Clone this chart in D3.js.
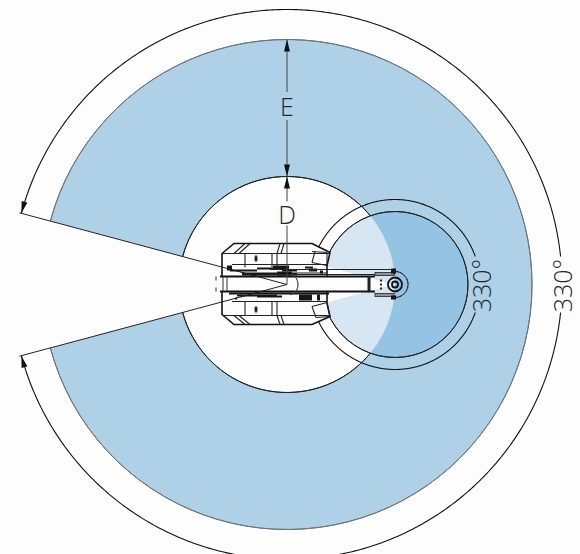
<!DOCTYPE html>
<html>
<head>
<meta charset="utf-8">
<script src="https://cdn.jsdelivr.net/npm/d3@7"></script>
<style>
html, body { margin: 0; padding: 0; background: #fdfdfd; }
svg { display: block; }
text { font-family: "Open Sans", sans-serif; font-weight: 300; fill: #23292d; }
</style>
</head>
<body>
<div id="chart"></div>
<script>
// 数据：工作范围
const zoneLabels = ['D', 'E'];
const zoneReach = [108, 245];      // J1 内径 / 外径
const dimReach = 275;              // 外侧尺寸弧
const j1Sweep = 330;
const j2Sweep = 330;
const j2Offset = 108;              // J2 轴到 J1 轴的距离
const j2Reach = 73;
const j2DimReach = 85;
const sweepLabels = ['330°', '330°'];

// 机身轮廓（相对 J1 轴，上下对称）
const bodyOutline = [[-65, -22], [-65, -31], [-53, -41], [25, -41], [43, -32], [40, -19], [40, 19], [43, 32], [25, 40], [-53, 40], [-65, 30], [-65, -22]];
const bodyLines = [
  [[-65, -31], [43, -31]], [[-55, -20], [40, -20]], [[-53, -31], [-42, -41]], [[-48, -31], [-37, -41]],
  [[-42, -31], [-42, -17]], [[-10, -31], [-10, -17]], [[-6, -31], [-3, -41]], [[-10, -31], [-7, -41]],
  [[-15, -31], [-15, -17]], [[25, -33], [40, -32]], [[25, -22], [28, -33]], [[40, -32], [40, -19]], [[25, -22], [40, -19]]
];
const lowerLines = [
  [[-65, 31], [43, 31]], [[-55, 17], [40, 17]], [[-53, 31], [-42, 40]], [[-48, 31], [-37, 40]],
  [[-42, 31], [-42, 17]], [[-10, 31], [-10, 17]], [[-6, 31], [-3, 40]], [[-10, 31], [-7, 40]],
  [[-15, 31], [-15, 17]], [[25, 22], [40, 18]], [[25, 22], [29, 33]], [[40, 18], [43, 32]], [[29, 33], [43, 32]]
];
// 深色密集线段
const denseBands = [
  [-60, -19, -55, -14], [-57, -15, -30, -13], [-45, -12, 10, -9], [-30, -17, -5, -15], [-5, -15, 10, -13],
  [-14, -19, 2, -15], [-10, -13, 5, -9], [22, -16, 30, -13], [10, -12, 40, -11], [33, -14, 36, -11],
  [-58, 8, 42, 10], [-50, 10, -10, 12], [-30, 11, -5, 13], [12, 10, 25, 16], [30, 10, 33, 16], [-52, 13, -50, 15],
  [18, -18, 26, -16]
];
const boltMarks = [[-31, -26], [-31, 25]];
const armTop = [[-67, -8], [88, -8]];
const armBottom = [[-67, 7], [88, 7]];
const armCap = [[-64, -8], [-64, 7]];
const armCap2 = [[-60, -8], [-60, 7]];
const upperStrip = [[[-17, -15], [108, -15]], [[-17, -10], [88, -10]], [[88, -10], [108, -10]]];
const wristBlocks = [[88, -12, 107, -9], [88, 9, 107, 12]];
const hubRings = [3, 7];

const width = 580, height = 554;
const cx = 287, cy = 284.5;

const xPos = d3.scaleLinear().domain([-cx, width - cx]).range([0, width]);
const yPos = d3.scaleLinear().domain([-cy, height - cy]).range([0, height]);
const rScale = d3.scaleLinear().domain([0, 245]).range([0, 245]);
const rad = d => d * Math.PI / 180;

const svg = d3.select('#chart').append('svg').attr('width', width).attr('height', height);
const defs = svg.append('defs');

function arrow(id, color) {
  defs.append('marker').attr('id', id).attr('viewBox', '0 0 12 6').attr('refX', 12).attr('refY', 3)
    .attr('markerUnits', 'userSpaceOnUse').attr('markerWidth', 14).attr('markerHeight', 6).attr('orient', 'auto-start-reverse')
    .append('path').attr('d', 'M0,0L12,3L0,6Z').attr('fill', color);
}
arrow('tip', '#111');

const arcGen = d3.arc();
const line = d3.line().x(d => xPos(d[0])).y(d => yPos(d[1]));

// 缺口朝左，扫掠角度由 sweep 得出
const sectorStart = sweep => rad(-90 + (360 - sweep) / 2);
const sectorEnd = sweep => sectorStart(sweep) + rad(sweep);
const polar = (r, deg) => [r * Math.sin(rad(deg)), -r * Math.cos(rad(deg))];

const main = svg.append('g').attr('transform', `translate(${xPos(0)},${yPos(0)})`);

// J1 蓝色区域
main.append('path')
  .attr('d', arcGen({ innerRadius: rScale(zoneReach[0]), outerRadius: rScale(zoneReach[1]), startAngle: sectorStart(j1Sweep), endAngle: sectorEnd(j1Sweep) }))
  .attr('fill', '#aed1e8');
main.append('path')
  .attr('d', arcGen({ innerRadius: rScale(zoneReach[1]), outerRadius: rScale(zoneReach[1]), startAngle: sectorStart(j1Sweep), endAngle: sectorEnd(j1Sweep) }))
  .attr('fill', 'none').attr('stroke', '#6f7476').attr('stroke-width', 1);

// J2 区域
defs.append('clipPath').attr('id', 'inner-disc').append('circle')
  .attr('cx', xPos(0)).attr('cy', yPos(0)).attr('r', rScale(zoneReach[0]));
const j2 = d => arcGen({ innerRadius: 0, outerRadius: rScale(j2Reach), startAngle: sectorStart(j2Sweep), endAngle: sectorEnd(j2Sweep) });
const j2Center = `translate(${xPos(j2Offset)},${yPos(0)})`;
svg.append('path').attr('transform', j2Center).attr('d', j2()).attr('fill', '#95c3e3');
svg.append('g').attr('clip-path', 'url(#inner-disc)')
  .append('path').attr('transform', j2Center).attr('d', j2()).attr('fill', '#d6e7f3');

// J1 内圆
main.append('path')
  .attr('d', arcGen({ innerRadius: rScale(zoneReach[0]), outerRadius: rScale(zoneReach[0]), startAngle: sectorStart(j1Sweep), endAngle: sectorEnd(j1Sweep) }))
  .attr('fill', 'none').attr('stroke', '#222').attr('stroke-width', 1);

// J2 外缘
svg.append('path').attr('transform', j2Center)
  .attr('d', arcGen({ innerRadius: rScale(j2Reach), outerRadius: rScale(j2Reach), startAngle: sectorStart(j2Sweep), endAngle: sectorEnd(j2Sweep) }))
  .attr('fill', 'none').attr('stroke', '#222').attr('stroke-width', 1);

// 尺寸弧：右侧留出文字空隙
function dimArc(g, r, sweep) {
  const start = -90 + (360 - sweep) / 2;
  const gapHalf = Math.asin(28 / r) * 180 / Math.PI;
  const makePts = (a, b) => d3.range(a, b, 0.5).concat([b]).map(t => polar(r, t));
  const path = d3.line();
  g.append('path').attr('d', path(makePts(start, 90 - gapHalf).reverse()))
    .attr('fill', 'none').attr('stroke', '#111').attr('stroke-width', 1.1).attr('marker-end', 'url(#tip)');
  g.append('path').attr('d', path(makePts(90 + gapHalf, start + sweep)))
    .attr('fill', 'none').attr('stroke', '#111').attr('stroke-width', 1.1).attr('marker-end', 'url(#tip)');
}
dimArc(main, rScale(dimReach), j1Sweep);
dimArc(svg.append('g').attr('transform', j2Center), rScale(j2DimReach), j2Sweep);

// 机身
svg.append('path').attr('d', line(bodyOutline)).attr('fill', '#fdfdfd').attr('stroke', '#111').attr('stroke-width', 1.6);

// 缺口两侧的边界线
[-1, 1].forEach(s => {
  const end = polar(rScale(dimReach) + 2, -90 + s * (360 - j1Sweep) / 2);
  svg.append('path').attr('d', line([end, [0, 0]])).attr('stroke', '#222').attr('stroke-width', 1).attr('fill', 'none');
});

bodyLines.concat(lowerLines).forEach(l => {
  svg.append('path').attr('d', line(l)).attr('fill', 'none').attr('stroke', '#222').attr('stroke-width', 1.1);
});
denseBands.forEach(b => {
  svg.append('rect').attr('x', xPos(b[0])).attr('y', yPos(b[1]))
    .attr('width', xPos(b[2]) - xPos(b[0])).attr('height', Math.max(1, yPos(b[3]) - yPos(b[1])))
    .attr('fill', '#161616');
});
boltMarks.forEach(b => {
  svg.append('ellipse').attr('cx', xPos(b[0])).attr('cy', yPos(b[1])).attr('rx', 1.6).attr('ry', 3.2).attr('fill', '#333');
});

// 手臂
svg.append('rect').attr('x', xPos(armTop[0][0])).attr('y', yPos(armTop[0][1]))
  .attr('width', xPos(armTop[1][0]) - xPos(armTop[0][0])).attr('height', yPos(armBottom[0][1]) - yPos(armTop[0][1]))
  .attr('fill', '#fdfdfd');
[armTop, armBottom].forEach(l => svg.append('path').attr('d', line(l)).attr('stroke', '#111').attr('stroke-width', 1.8));
[armCap, armCap2].forEach(l => svg.append('path').attr('d', line(l)).attr('stroke', '#333').attr('stroke-width', 1));
upperStrip.forEach(l => svg.append('path').attr('d', line(l)).attr('stroke', '#222').attr('stroke-width', 1.2));
svg.append('path').attr('d', line([[-71, -8], [-71, 8]])).attr('stroke', '#333').attr('stroke-dasharray', '4,7').attr('fill', 'none');

// 缺口线重新画到手臂上
[-1, 1].forEach(s => {
  svg.append('path').attr('d', line([polar(48, -90 + s * (360 - j1Sweep) / 2), [0, 0]])).attr('stroke', '#222').attr('stroke-width', 1).attr('fill', 'none');
});
svg.append('path').attr('transform', `translate(${xPos(0)},${yPos(0)})`)
  .attr('d', arcGen({ innerRadius: 11, outerRadius: 11, startAngle: rad(20), endAngle: rad(160) }))
  .attr('fill', 'none').attr('stroke', '#444').attr('stroke-width', 0.8);

// 腕部
wristBlocks.forEach(b => {
  svg.append('rect').attr('x', xPos(b[0])).attr('y', yPos(b[1]))
    .attr('width', xPos(b[2]) - xPos(b[0])).attr('height', yPos(b[3]) - yPos(b[1]))
    .attr('fill', '#8e9499').attr('stroke', '#222').attr('stroke-width', 0.8);
});
svg.append('rect').attr('x', xPos(104)).attr('y', yPos(-16)).attr('width', 5).attr('height', 5).attr('fill', '#111');
svg.append('rect').attr('x', xPos(104)).attr('y', yPos(11)).attr('width', 5).attr('height', 4).attr('fill', '#111');
svg.append('path').attr('transform', j2Center)
  .attr('d', arcGen({ innerRadius: 13, outerRadius: 13, startAngle: rad(-10), endAngle: rad(190) }))
  .attr('fill', 'none').attr('stroke', '#222').attr('stroke-width', 1).attr('stroke-dasharray', '3,1');
hubRings.forEach(r => {
  svg.append('circle').attr('cx', xPos(j2Offset)).attr('cy', yPos(0)).attr('r', r)
    .attr('fill', 'none').attr('stroke', '#111').attr('stroke-width', 1.8);
});
svg.append('path').attr('d', line([[82, -8], [82, 7]])).attr('stroke', '#222').attr('stroke-width', 3);
svg.append('path').attr('d', line([[94, -5], [94, 5]])).attr('stroke', '#222').attr('stroke-width', 2).attr('stroke-dasharray', '2,2');

// D / E 尺寸线
const gapE = 14, gapD = 14;
const midE = -(zoneReach[0] + zoneReach[1]) / 2 - 2;
const midD = -71;
const vLine = (a, b, marker) => {
  const p = svg.append('line').attr('x1', xPos(0)).attr('x2', xPos(0)).attr('y1', yPos(a)).attr('y2', yPos(b))
    .attr('stroke', '#444').attr('stroke-width', 1);
  if (marker) p.attr('marker-end', 'url(#tip)');
};
vLine(midE - gapE, -rScale(zoneReach[1]), true);
vLine(midE + gapE, -rScale(zoneReach[0]), true);
vLine(midD - gapD + 2, -rScale(zoneReach[0]), true);
vLine(midD + gapD - 2, 0, false);

const label = (t, x, y, rot) => svg.append('text').text(t)
  .attr('text-anchor', 'middle').attr('dominant-baseline', 'central')
  .attr('font-size', 25)
  .attr('transform', `translate(${x},${y})` + (rot ? ` rotate(${rot})` : ''));
label(zoneLabels[1], xPos(0), yPos(midE));
label(zoneLabels[0], xPos(0), yPos(midD));
label(sweepLabels[0], xPos(j2Offset + j2DimReach + 1), yPos(0) + 1, -90);
label(sweepLabels[1], xPos(rScale(dimReach)), yPos(0) + 1, -90);
</script>
</body>
</html>
